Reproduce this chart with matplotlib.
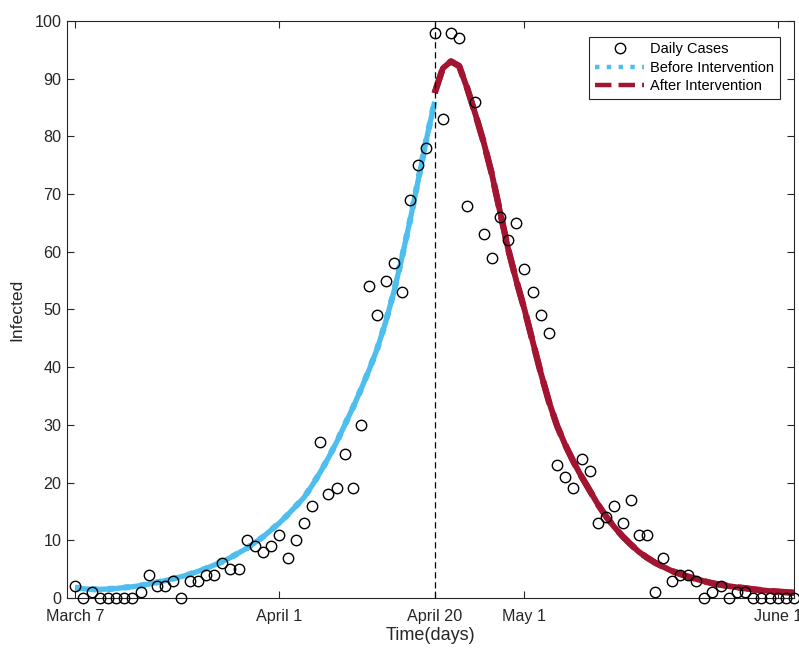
import matplotlib
matplotlib.use("Agg")
import matplotlib.pyplot as plt

plt.rcParams['font.family'] = ['Liberation Sans', 'DejaVu Sans']

# daily case counts, day 1 = March 7
days = list(range(1, 90))
daily_cases = [2, 0, 1, 0, 0, 0, 0, 0, 1, 4,
               2, 2, 3, 0, 3, 3, 4, 4, 6, 5,
               5, 10, 9, 8, 9, 11, 7, 10, 13, 16,
               27, 18, 19, 25, 19, 30, 54, 49, 55, 58,
               53, 69, 75, 78, 98, 83, 98, 97, 68, 86,
               63, 59, 66, 62, 65, 57, 53, 49, 46, 23,
               21, 19, 24, 22, 13, 14, 16, 13, 17, 11,
               11, 1, 7, 3, 4, 4, 3, 0, 1, 2,
               0, 1, 1, 0, 0, 0, 0, 0, 0]

# fitted curve before the intervention (days 1-45)
before_days = list(range(1, 46))
before_fit = [1.8, 1.6, 1.5, 1.5, 1.55, 1.65, 1.8, 1.95, 2.15, 2.4,
              2.7, 3.0, 3.35, 3.7, 4.1, 4.6, 5.1, 5.7, 6.3, 7.0,
              7.8, 8.6, 9.6, 10.6, 11.8, 13.0, 14.4, 15.9, 17.4, 19.5,
              21.8, 24.3, 27.0, 30.0, 33.0, 36.2, 39.6, 43.3, 47.8, 53.0,
              59.0, 65.5, 72.5, 79.5, 86.0]

# fitted curve after the intervention (days 45-89)
after_days = list(range(45, 90))
after_fit = [87.5, 91.8, 93.0, 92.2, 88.3, 83.8, 79.0, 73.5, 67.0, 60.5,
             55.0, 50.0, 44.5, 39.0, 34.0, 29.8, 26.5, 23.6, 21.0, 18.6,
             16.2, 14.1, 12.3, 10.7, 9.3, 8.0, 7.0, 6.1, 5.4, 4.7,
             4.2, 3.7, 3.3, 2.9, 2.55, 2.3, 2.05, 1.85, 1.7, 1.5,
             1.35, 1.2, 1.1, 1.0, 0.9]

intervention_day = 45
tick_days = [1, 26, 45, 56, 87]
tick_labels = ["March 7", "April 1", "April 20", "May 1", "June 1"]

blue = "#4DBEEE"
red = "#A2142F"
dark = "#262626"

fig = plt.figure(figsize=(7.99, 6.48), dpi=100)
ax = fig.add_axes([0.0839, 0.0772, 0.9099, 0.8904])

# solid fits underneath, styled copies on top for the legend
ax.plot(before_days, before_fit, color=blue, lw=3.8, solid_capstyle="butt")
ax.plot(after_days, after_fit, color=red, lw=4.2, solid_capstyle="butt")
ax.plot(days, daily_cases, "o", mfc="none", mec="black", ms=7.5, mew=1.0,
        label="Daily Cases", clip_on=False, zorder=5)
ax.plot(before_days, before_fit, ":", color=blue, lw=4.4, label="Before Intervention")
ax.plot(after_days, after_fit, "--", color=red, lw=4.6, label="After Intervention")
ax.axvline(intervention_day, color="black", ls=(0, (5, 3)), lw=0.9)

ax.set_xlim(0, 89)
ax.set_ylim(0, 100)
ax.set_xticks(tick_days)
ax.set_xticklabels(tick_labels)
ax.set_yticks(range(0, 101, 10))
ax.tick_params(direction="in", length=5, width=0.8, colors=dark, labelsize=11.6,
               top=True, right=True, pad=4)
ax.tick_params(axis="x", pad=8)
for s in ax.spines.values():
    s.set_color(dark)
    s.set_linewidth(0.8)

ax.set_xlabel("Time(days)", fontsize=13, color=dark, labelpad=2)
ax.set_ylabel("Infected", fontsize=12.6, color=dark, labelpad=7)

leg = ax.legend(loc="upper left", bbox_to_anchor=(0.718, 0.973), borderaxespad=0,
                fontsize=10.5, handlelength=3.4, handletextpad=0.4,
                labelspacing=0.3, borderpad=0.4, fancybox=False,
                edgecolor=dark, framealpha=1)
leg.get_frame().set_linewidth(0.8)
for h in leg.get_lines()[1:]:
    h.set_linewidth(3.2)

fig.savefig("out.png", dpi=100)
